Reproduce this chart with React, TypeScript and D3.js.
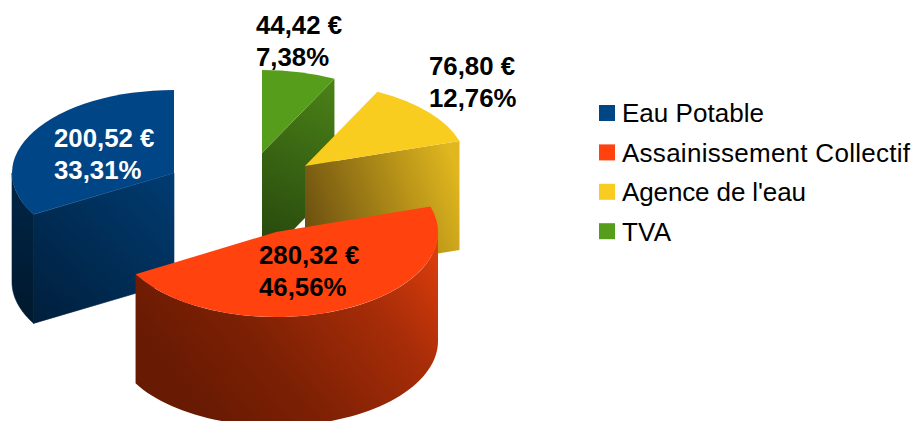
import React from "react";
import * as d3 from "d3";

const categories = ["Eau Potable", "Assainissement Collectif", "Agence de l'eau", "TVA"];
const values = [200.52, 280.32, 76.8, 44.42];
const colors = ["#004586", "#ff420e", "#f9cc20", "#579d1c"];

const W = 912;
const H = 421;
const RX = 162;
const DEPTH = 109;
const FONT = "'Liberation Sans', Arial, sans-serif";

// exploded slice layout: centre, ellipse height, label anchor
const layout = [
  { cx: 174, cy: 173, ry: 83, lx: 54, ly: 147, fill: "#fff" },
  { cx: 276, cy: 232, ry: 85, lx: 259, ly: 264, fill: "#000" },
  { cx: 305, cy: 166, ry: 83, lx: 429, ly: 75, fill: "#000" },
  { cx: 262, cy: 153, ry: 83, lx: 256, ly: 34, fill: "#000" },
];
const legendLayout = { x: 599, y: 105, size: 16, step: 39.4, textX: 622, textY: 122, textStep: 39.67 };
const legendTextWidths = [142, 288, 184, 49];

const pieGen = d3.pie<number>().sort(null).startAngle(0).endAngle(-2 * Math.PI);
const arcs = pieGen(values);
const total = d3.sum(values);
const fmt = (v: number) => v.toFixed(2).replace(".", ",");

const arcGen = d3.arc<d3.PieArcDatum<number>>().innerRadius(0).outerRadius(RX);
const pathLine = d3.line<[number, number]>();

function pt(i: number, a: number, dy = 0): [number, number] {
  const l = layout[i];
  return [l.cx + RX * Math.sin(a), l.cy - l.ry * Math.cos(a) + dy];
}
// inner radial wall: from slice centre to the rim at angle a
function radialWall(i: number, a: number): string {
  const l = layout[i];
  const c: [number, number] = [l.cx, l.cy];
  const e = pt(i, a);
  return pathLine([c, e, [e[0], e[1] + DEPTH], [c[0], c[1] + DEPTH]])! + "Z";
}
// outer curved wall between two angles
function rimWall(i: number, a0: number, a1: number): string {
  const top = d3.range(0, 61).map((k) => pt(i, a0 + ((a1 - a0) * k) / 60));
  const bottom = top.slice().reverse().map(([x, y]) => [x, y + DEPTH] as [number, number]);
  return pathLine([...top, ...bottom])! + "Z";
}

const [blue, red, yellow, green] = arcs;

export default function App() {
  return (
    <svg width={W} height={H} viewBox={`0 0 ${W} ${H}`} style={{ position: "absolute", left: 0, top: 0, background: "#fff" }}>
      <defs>
        <linearGradient id="blueWall" gradientUnits="userSpaceOnUse" x1={40} y1={325} x2={174} y2={175}>
          <stop offset="0" stopColor="#001f3c" />
          <stop offset="1" stopColor="#003c72" />
        </linearGradient>
        <linearGradient id="blueRim" gradientUnits="userSpaceOnUse" x1={12} y1={300} x2={33} y2={200}>
          <stop offset="0" stopColor="#001a30" />
          <stop offset="1" stopColor="#002444" />
        </linearGradient>
        <linearGradient id="greenWall" gradientUnits="userSpaceOnUse" x1={262} y1={235} x2={334} y2={85}>
          <stop offset="0" stopColor="#294b0d" />
          <stop offset="1" stopColor="#4a8018" />
        </linearGradient>
        <linearGradient id="yellowWall" gradientUnits="userSpaceOnUse" x1={305} y1={230} x2={459} y2={175}>
          <stop offset="0" stopColor="#6a4f10" />
          <stop offset="1" stopColor="#e0b71e" />
        </linearGradient>
        <linearGradient id="redWall" gradientUnits="userSpaceOnUse" x1={215} y1={430} x2={440} y2={245}>
          <stop offset="0" stopColor="#681a03" />
          <stop offset="0.3" stopColor="#7c2004" />
          <stop offset="0.7" stopColor="#a82d08" />
          <stop offset="1" stopColor="#e03e0c" />
        </linearGradient>
      </defs>

      {/* blue */}
      <path d={radialWall(0, blue.endAngle)} fill="url(#blueWall)" stroke="url(#blueWall)" strokeWidth={0.6} />
      <path d={rimWall(0, blue.endAngle, -Math.PI / 2)} fill="url(#blueRim)" stroke="url(#blueRim)" strokeWidth={0.6} />
      <path d={arcGen(blue)!} transform={`translate(${layout[0].cx},${layout[0].cy}) scale(1,${layout[0].ry / RX})`} fill={colors[0]} />

      {/* green */}
      <path d={radialWall(3, green.startAngle)} fill="url(#greenWall)" />
      <path d={arcGen(green)!} transform={`translate(${layout[3].cx},${layout[3].cy}) scale(1,${layout[3].ry / RX})`} fill={colors[3]} />

      {/* yellow */}
      <path d={radialWall(2, yellow.startAngle)} fill="url(#yellowWall)" />
      <path d={arcGen(yellow)!} transform={`translate(${layout[2].cx},${layout[2].cy}) scale(1,${layout[2].ry / RX})`} fill={colors[2]} />

      {/* red */}
      <path d={rimWall(1, -1.5 * Math.PI, red.startAngle)} fill="url(#redWall)" />
      <path d={arcGen(red)!} transform={`translate(${layout[1].cx},${layout[1].cy}) scale(1,${layout[1].ry / RX})`} fill={colors[1]} />

      {/* data labels */}
      {values.map((v, i) => (
        <text key={i} x={layout[i].lx} fontFamily={FONT} fontSize={25.8} fontWeight="bold" fill={layout[i].fill}>
          <tspan x={layout[i].lx} y={layout[i].ly}>{`${fmt(v)} €`}</tspan>
          <tspan x={layout[i].lx} y={layout[i].ly + 32}>{`${fmt((v / total) * 100)}%`}</tspan>
        </text>
      ))}

      {/* legend */}
      {categories.map((c, i) => (
        <g key={c}>
          <rect x={legendLayout.x} y={legendLayout.y + i * legendLayout.step} width={legendLayout.size} height={legendLayout.size} fill={colors[i]} />
          <text
            x={legendLayout.textX}
            y={legendLayout.textY + i * legendLayout.textStep}
            fontFamily={FONT}
            fontSize={26}
            textLength={legendTextWidths[i]}
            lengthAdjust="spacing"
            fill="#000"
          >
            {c}
          </text>
        </g>
      ))}
    </svg>
  );
}
